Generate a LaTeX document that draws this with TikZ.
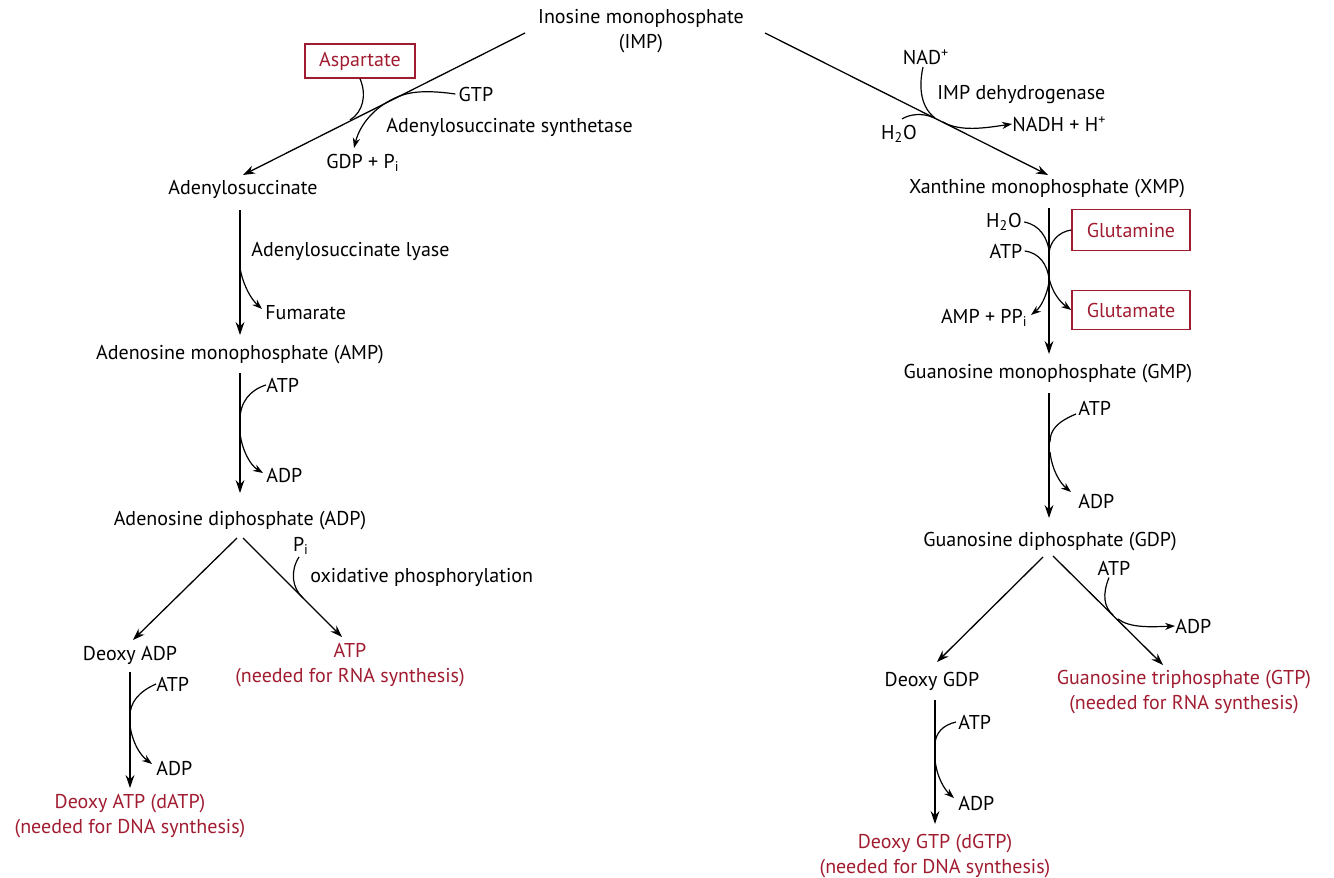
\documentclass[tikz,border=0pt]{standalone}
\usepackage{fontspec}
\setmainfont{PT Sans}
\usetikzlibrary{arrows.meta}
\definecolor{dred}{RGB}{160,28,48}
\begin{document}
\begin{tikzpicture}[x=0.5pt,y=-0.5pt,
  lbl/.style={inner sep=0pt, font=\fontsize{10}{12.8}\selectfont, align=center},
  rlbl/.style={lbl, text=dred},
  rbox/.style={draw=dred, line width=0.8pt, text=dred, inner sep=0pt, font=\fontsize{10}{12}\selectfont},
  mainarr/.style={line width=0.65pt, -{Stealth[length=6pt,width=4.2pt]}},
  varr/.style={line width=0.9pt, -{Stealth[length=6.5pt,width=4.4pt]}},
  side/.style={line width=0.6pt},
  sidearr/.style={line width=0.6pt, -{Stealth[length=5pt,width=3.6pt]}}]
\useasboundingbox (0,0) rectangle (1334,878);

% ---------- texts ----------
\node[lbl] (imp) at (641,31) {Inosine monophosphate\\(IMP)};
\node[rbox, minimum width=55pt, minimum height=17pt] (asp) at (360,61) {Aspartate};
\node[lbl] (gtp1) at (476,94) {GTP};
\node[lbl, anchor=west] (adss) at (386,127) {Adenylosuccinate synthetase};
\node[lbl] (gdppi) at (363,163) {GDP + P\textsubscript{i}};
\node[lbl] (adsucc) at (243,189) {Adenylosuccinate};
\node[lbl, anchor=west] (lyase) at (251,251) {Adenylosuccinate lyase};
\node[lbl, anchor=west] (fum) at (265,313) {Fumarate};
\node[lbl] (amp) at (240,355) {Adenosine monophosphate (AMP)};
\node[lbl, anchor=west] (atp1) at (266,385) {ATP};
\node[lbl, anchor=west] (adp1) at (266,475) {ADP};
\node[lbl] (adp) at (240,521) {Adenosine diphosphate (ADP)};
\node[lbl] (pi) at (301,546) {P\textsubscript{i}};
\node[lbl, anchor=west] (oxphos) at (310,577) {oxidative phosphorylation};
\node[lbl] (dadp) at (130,655) {Deoxy ADP};
\node[rlbl] (atpr) at (350,665) {ATP\\(needed for RNA synthesis)};
\node[lbl, anchor=west] (atp2) at (156,684) {ATP};
\node[lbl, anchor=west] (adp2) at (156,768) {ADP};
\node[rlbl] (datp) at (130,816) {Deoxy ATP (dATP)\\(needed for DNA synthesis)};

\node[lbl] (nad) at (926,57) {NAD\textsuperscript{+}};
\node[lbl, anchor=west] (impdh) at (937,95) {IMP dehydrogenase};
\node[lbl, anchor=west] (nadh) at (1012,124) {NADH + H\textsuperscript{+}};
\node[lbl] (h2o1) at (899,134) {H\textsubscript{2}O};
\node[lbl] (xmp) at (1047,189) {Xanthine monophosphate (XMP)};
\node[lbl] (h2o2) at (1004,222) {H\textsubscript{2}O};
\node[lbl] (atp3) at (1006,251) {ATP};
\node[rbox, minimum width=59pt, minimum height=20.5pt] (gln) at (1131,230) {Glutamine};
\node[rbox, minimum width=59pt, minimum height=19.5pt] (glu) at (1131,310) {Glutamate};
\node[lbl, anchor=east] (ampppi) at (1028,318) {AMP + PP\textsubscript{i}};
\node[lbl] (gmp) at (1048,374) {Guanosine monophosphate (GMP)};
\node[lbl, anchor=west] (atp4) at (1078,408) {ATP};
\node[lbl, anchor=west] (adp4) at (1078,501) {ADP};
\node[lbl] (gdp) at (1050,542) {Guanosine diphosphate (GDP)};
\node[lbl] (atp5) at (1114,568) {ATP};
\node[lbl, anchor=west] (adp5) at (1175,626) {ADP};
\node[lbl] (dgdp) at (932,681) {Deoxy GDP};
\node[rlbl] (gtpr) at (1184,692) {Guanosine triphosphate (GTP)\\(needed for RNA synthesis)};
\node[lbl, anchor=west] (atp6) at (958,722) {ATP};
\node[lbl, anchor=west] (adp6) at (958,803) {ADP};
\node[rlbl] (dgtp) at (935,856) {Deoxy GTP (dGTP)\\(needed for DNA synthesis)};

% ---------- coordinates ----------
\coordinate (impL) at (525,33);
\coordinate (impR) at (765,33);
\coordinate (adsuccT) at (243,175);
\coordinate (xmpT) at (1048,175);

% ---------- main arrows ----------
\draw[mainarr] (impL) -- (adsuccT);
\draw[mainarr] (impR) -- (xmpT);
\draw[varr] (240,210) -- (240,335);
\draw[varr] (240,373) -- (240,493);
\draw[mainarr] (237,538) -- (133,640);
\draw[mainarr] (243,538) -- (342,637);
\draw[varr] (130,672) -- (130,788);
\draw[varr] (1049,208) -- (1049,354);
\draw[varr] (1049,393) -- (1049,518);
\draw[mainarr] (1043,557) -- (937,662);
\draw[mainarr] (1053,556) -- (1163,665);
\draw[varr] (935,700) -- (935,824);

% ---------- side reactions: left ----------
\draw[side] (asp.south) .. controls (367,95) and (363,112) .. (350,120);
\draw[sidearr] (gtp1.west) ++(-3,0) .. controls (420,89) and (406,93) .. (395,98)
   .. controls (375,107) and (360,124) .. (354,148);
\draw[sidearr] (240,268) .. controls (243,285) and (251,299) .. (262,309);
\draw[side] (atp1.west) .. controls (250,390) and (240,402) .. (240,420);
\draw[sidearr] (240,433) .. controls (242,450) and (250,465) .. (263,473);
\draw[side] (pi.south) ++(-2,2) .. controls (290,571) and (292,588) .. (303,598);
\draw[side] (atp2.west) .. controls (138,692) and (130,703) .. (130,716);
\draw[sidearr] (130,725) .. controls (132,742) and (140,755) .. (152,764);

% ---------- side reactions: right ----------
\draw[side] (nad.south) ++(-3,2) .. controls (918,90) and (922,108) .. (935,118);
\draw[side] (h2o1.north) ++(3,-6) .. controls (910,114) and (922,113) .. (932,117);
\draw[sidearr] (943,122) .. controls (960,132) and (985,128) .. (nadh.west);
\draw[side] (h2o2.east) ++(2,0) .. controls (1040,225) and (1047,238) .. (1049,250);
\draw[side] (gln.west) .. controls (1058,232) and (1050,242) .. (1049,253);
\draw[side] (atp3.east) ++(2,0) .. controls (1040,253) and (1047,265) .. (1049,278);
\draw[sidearr] (1049,278) .. controls (1052,292) and (1060,302) .. (glu.west);
\draw[sidearr] (1049,282) .. controls (1047,295) and (1041,307) .. (1031,315);
\draw[side] (atp4.west) ++(-2,6) .. controls (1057,422) and (1050,430) .. (1050,442);
\draw[sidearr] (1050,452) .. controls (1052,470) and (1060,483) .. (1071,492);
\draw[side] (atp5.south) ++(-5,2) .. controls (1102,595) and (1104,607) .. (1113,615);
\draw[sidearr] (1118,619) .. controls (1130,628) and (1150,627) .. (adp5.west);
\draw[side] (atp6.west) ++(-2,0) .. controls (943,725) and (935,733) .. (935,745);
\draw[sidearr] (935,760) .. controls (937,778) and (945,790) .. (954,798);
\end{tikzpicture}
\end{document}
